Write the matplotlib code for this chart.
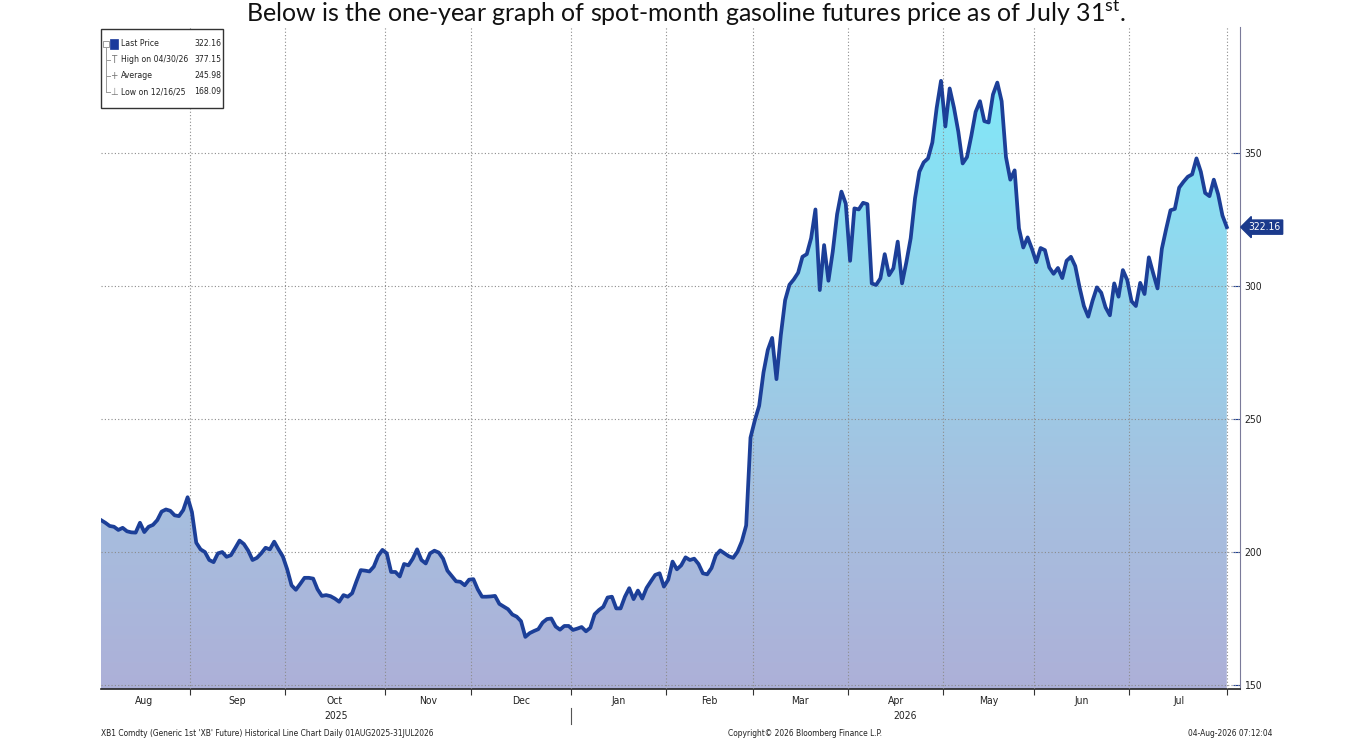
import numpy as np
import pandas as pd
import matplotlib.pyplot as plt
import matplotlib.transforms as mtransforms
from matplotlib.colors import LinearSegmentedColormap
from matplotlib.patches import Rectangle

W, H = 1372, 752

# daily (weekday) settle prices, cents/gal
dates = pd.bdate_range("2025-08-01", "2026-07-31")
prices = [
    212.0, 211.0, 209.8, 209.5, 208.3, 209.1, 207.8, 207.4, 207.3, 211.0,
    207.5, 209.5, 210.2, 212.0, 215.2, 216.0, 215.5, 213.8, 213.5, 215.8,
    220.6, 215.0, 203.5, 201.0, 200.0, 197.0, 196.2, 199.5, 200.0, 198.2,
    198.8, 201.5, 204.3, 203.0, 200.5, 197.0, 197.8, 199.5, 201.6, 201.0,
    203.9, 201.0, 198.3, 193.5, 187.5, 185.8, 188.0, 190.3, 190.3, 190.0,
    186.0, 183.5, 183.8, 183.4, 182.5, 181.3, 183.8, 183.2, 184.5, 189.0,
    193.2, 193.0, 192.7, 194.5, 198.5, 200.8, 199.5, 192.5, 192.5, 190.8,
    195.5, 195.0, 197.5, 201.0, 197.0, 195.7, 199.5, 200.5, 199.8, 197.5,
    193.0, 191.0, 189.0, 188.8, 187.5, 189.6, 189.8, 186.0, 183.2, 183.2,
    183.3, 183.5, 180.5, 179.5, 178.5, 176.5, 175.7, 174.0, 168.09, 169.5,
    170.3, 171.0, 173.5, 174.8, 175.0, 172.0, 170.8, 172.2, 172.2, 170.7,
    171.2, 171.8, 170.2, 171.5, 176.6, 178.2, 179.4, 182.9, 183.2, 178.8,
    178.8, 183.2, 186.4, 182.3, 185.5, 182.5, 186.5, 189.0, 191.4, 192.0,
    187.0, 189.6, 196.4, 193.5, 195.0, 198.0, 197.0, 197.5, 195.5, 192.0,
    191.6, 194.0, 198.8, 200.6, 199.5, 198.4, 197.8, 200.1, 204.0, 210.0,
    243.0, 249.5, 255.0, 267.5, 276.0, 280.5, 265.0, 281.5, 294.7, 300.5,
    302.5, 305.0, 311.0, 312.0, 318.0, 328.8, 298.5, 315.4, 302.0, 313.0,
    327.0, 335.5, 331.0, 309.5, 329.2, 328.8, 331.3, 330.8, 301.0, 300.4,
    302.9, 312.0, 304.1, 306.7, 316.7, 301.0, 309.0, 318.0, 333.0, 343.0,
    346.5, 348.0, 354.0, 367.0, 377.15, 360.0, 374.3, 367.0, 358.0, 346.1,
    348.5, 356.5, 365.5, 369.5, 362.0, 361.5, 372.0, 376.5, 369.5, 348.5,
    340.0, 343.5, 321.7, 314.5, 318.3, 314.0, 309.0, 314.3, 313.5, 307.0,
    304.6, 306.8, 303.0, 309.5, 311.0, 307.5, 299.5, 292.5, 288.5, 294.5,
    299.5, 297.5, 292.0, 289.0, 301.0, 296.0, 306.0, 302.3, 294.3, 292.5,
    301.2, 297.0, 310.8, 304.8, 299.1, 314.0, 321.5, 328.5, 329.0, 337.0,
    339.2, 341.1, 342.0, 348.0, 343.0, 335.0, 333.8, 340.0, 334.5, 326.5,
    322.16,
]
y_ticks = [150, 200, 250, 300, 350]
legend_labels = ["Last Price", "High on 04/30/26", "Average", "Low on 12/16/25"]
legend_values = [322.16, 377.15, 245.98, 168.09]
legend_icons = ["", "T", "+", "\u22a5"]

title = "Below is the one-year graph of spot-month gasoline futures price as of July 31$^{\\mathrm{st}}$."
footer_left = "XB1 Comdty (Generic 1st 'XB' Future) Historical Line Chart Daily 01AUG2025-31JUL2026"
footer_mid = "Copyright\u00a9 2026 Bloomberg Finance L.P."
footer_right = "04-Aug-2026 07:12:04"

# Bloomberg uses a narrow screen font; condensed DejaVu at small size is the closest
NARROW = dict(family="DejaVu Sans", stretch="condensed")
LINE = "#1c3f98"
TXT = "#222222"

plt.rcParams["mathtext.fontset"] = "custom"
plt.rcParams["mathtext.rm"] = "Lato"


def fx(x):
    return x / W


def fy(y):
    return 1 - y / H


s = pd.Series(prices, index=dates)
idx = np.arange(len(s))
ymin, ymax = 148.5, 397.4
xmax = len(s) - 1 + 3.05

fig = plt.figure(figsize=(W / 100, H / 100), dpi=100)
ax = fig.add_axes([fx(101), fy(689), fx(1240) - fx(101), fy(27) - fy(689)])

# gradient area under the line
cmap = LinearSegmentedColormap.from_list(
    "xb", [(0, "#adb0d8"), (0.3, "#a6bfdf"), (0.6, "#97d2ea"), (1, "#80e9f9")])
grad = np.linspace(0, 1, 256).reshape(-1, 1)
im = ax.imshow(grad, cmap=cmap, origin="lower", aspect="auto",
               extent=[0, len(s) - 1, ymin, 380], zorder=1)
area = ax.fill_between(idx, s.values, ymin, color="none", lw=0)
im.set_clip_path(area.get_paths()[0], transform=ax.transData)

ax.plot(idx, s.values, color=LINE, lw=2.7, zorder=4, solid_joinstyle="round")

ax.set_xlim(0, xmax)
ax.set_ylim(ymin, ymax)

# month boundaries and centres
starts = [0] + [i for i in range(1, len(s)) if dates[i].month != dates[i - 1].month]
bounds = [i - 0.5 for i in starts[1:]] + [len(s) - 1]
ends = starts[1:] + [len(s)]
centers = [(a + b - 1) / 2 for a, b in zip(starts, ends)]
month_names = [dates[i].strftime("%b") for i in starts]

ax.vlines(bounds, ymin, ymax, colors="#8c8c8c", linestyles=(0, (1, 2)), lw=0.8, zorder=3)
ax.hlines(y_ticks, 0, xmax, colors="#8c8c8c", linestyles=(0, (1, 2)), lw=0.8, zorder=3)

ax.set_xticks(bounds)
ax.set_xticklabels([])
ax.set_xticks(centers, minor=True)
ax.set_xticklabels(month_names, minor=True, fontsize=7.5, color=TXT, **NARROW)
ax.tick_params(axis="x", which="major", length=4, direction="out", color="#333333")
ax.tick_params(axis="x", which="minor", length=0, pad=5)

ax.yaxis.tick_right()
ax.set_yticks(y_ticks)
ax.set_yticklabels([str(v) for v in y_ticks], fontsize=7.5, color=TXT, **NARROW)
ax.tick_params(axis="y", length=5, direction="in", color="#1c3f98", pad=3)

for side in ["left", "top"]:
    ax.spines[side].set_visible(False)
ax.spines["right"].set_color("#7a7a9a")
ax.spines["right"].set_linewidth(0.8)
ax.spines["bottom"].set_color("#222222")
ax.spines["bottom"].set_linewidth(1.2)

# year labels under the months
yr_tr = mtransforms.blended_transform_factory(ax.transData, fig.transFigure)
jan_bound = [b for b, i in zip(bounds, starts[1:]) if dates[i].month == 1][0]
ax.text((0 + jan_bound) / 2, fy(716), "2025", transform=yr_tr, ha="center", va="center",
        fontsize=7.5, color=TXT, **NARROW)
ax.text((jan_bound + xmax) / 2, fy(716), "2026", transform=yr_tr, ha="center", va="center",
        fontsize=7.5, color=TXT, **NARROW)
ax.plot([jan_bound, jan_bound], [fy(708), fy(724)], transform=yr_tr, color="#555555",
        lw=0.8, clip_on=False)

# last price tag
ax.annotate(f"{s.iloc[-1]:.2f}", xy=(1.0, s.iloc[-1]),
            xycoords=mtransforms.blended_transform_factory(ax.transAxes, ax.transData),
            xytext=(6, 0), textcoords="offset points", ha="left", va="center",
            fontsize=7.5, color="white",
            bbox=dict(boxstyle="larrow,pad=0.2", fc="#1b3a8c", ec="#1b3a8c"),
            annotation_clip=False, zorder=6, **NARROW)

# legend box, top left
fig.patches.append(Rectangle((fx(101), fy(108)), fx(223) - fx(101), fy(29) - fy(108),
                             transform=fig.transFigure, fc="white", ec="#333333", lw=1.0,
                             zorder=10))
row_y = [44, 60, 76, 92]
fig.lines.append(plt.Line2D([fx(106), fx(106)], [fy(48), fy(92)], transform=fig.transFigure,
                            color="#9a9a9a", lw=0.7, zorder=11))
for y in row_y[1:]:
    fig.lines.append(plt.Line2D([fx(106), fx(110)], [fy(y), fy(y)], transform=fig.transFigure,
                                color="#9a9a9a", lw=0.7, zorder=11))
fig.patches.append(Rectangle((fx(103), fy(47)), fx(6), fy(0) - fy(6), transform=fig.transFigure,
                             fc="white", ec="#9a9a9a", lw=0.7, zorder=11))
fig.patches.append(Rectangle((fx(110), fy(49)), fx(8), fy(0) - fy(10), transform=fig.transFigure,
                             fc="#1b3a9c", ec="#1b3a9c", lw=0.5, zorder=11))
for y, lab, val, icon in zip(row_y, legend_labels, legend_values, legend_icons):
    if icon:
        fig.text(fx(114), fy(y), icon, ha="center", va="center",
                 fontsize=7, color="#777777", zorder=12, **NARROW)
    fig.text(fx(121), fy(y), lab, ha="left", va="center",
             fontsize=6.2, color=TXT, zorder=12, **NARROW)
    fig.text(fx(221), fy(y), f"{val:.2f}", ha="right", va="center",
             fontsize=6.2, color=TXT, zorder=12, **NARROW)

fig.text(0.5, fy(13), title, ha="center", va="center", family="Lato", fontsize=18, color="#111111")
fig.text(fx(101), fy(734), footer_left, ha="left", va="center", fontsize=6, color=TXT, **NARROW)
fig.text(fx(805), fy(734), footer_mid, ha="center", va="center", fontsize=6, color=TXT, **NARROW)
fig.text(fx(1272), fy(734), footer_right, ha="right", va="center", fontsize=6, color=TXT, **NARROW)

fig.savefig("out.png", dpi=100)
